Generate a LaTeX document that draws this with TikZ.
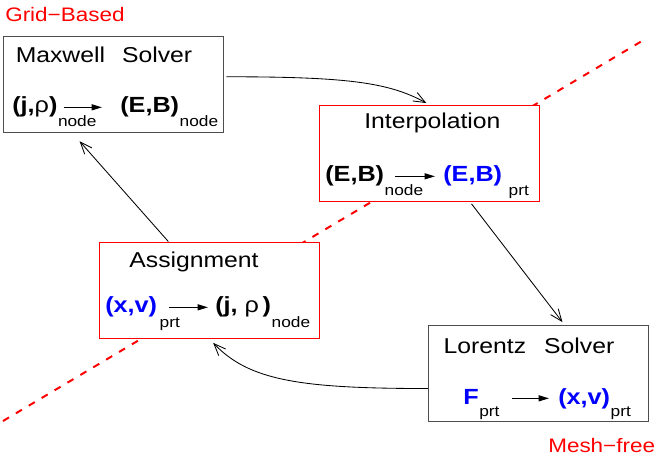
\documentclass[tikz,border=0pt]{standalone}
\usepackage{fontspec}
\setmainfont{Liberation Sans}[FakeStretch=1.15]
\usepackage{tikz}
\usetikzlibrary{positioning, arrows.meta, calc}
\definecolor{picBlue}{HTML}{0000FF}
\definecolor{picRed}{HTML}{FF0000}
\definecolor{picFrame}{HTML}{4D4D4D}

\begin{document}
\begin{tikzpicture}[
    solver/.style={
      rectangle, draw=picFrame, fill=white, line width=0.7pt,
      minimum width=5.5cm, minimum height=2.4cm, inner sep=0pt
    },
    stage/.style={solver, draw=picRed},
    title/.style={anchor=base, inner sep=0pt, font=\fontsize{15.3}{18}\selectfont},
    term/.style={anchor=base west, inner sep=0pt, font=\fontsize{15.6}{18}\selectfont\bfseries},
    sub/.style={anchor=base west, inner sep=0pt, font=\fontsize{10.7}{12}\selectfont},
    region/.style={anchor=base west, inner sep=0pt, text=picRed, font=\fontsize{13.9}{16}\selectfont},
    flow/.style={line width=0.6pt, -{Straight Barb[length=3mm,width=2.4mm]}},
    map/.style={line width=0.9pt, -{Triangle[length=2.6mm,width=1.5mm]}},
    split/.style={draw=picRed, line width=1.4pt, dash pattern=on 0.175cm off 0.2cm}
  ]
  \useasboundingbox (0,0) rectangle (16.45,11.6);

  % frontera malla / sin malla
  \coordinate (gridEnd) at (0.075,1.075);
  \coordinate (meshEnd) at (16.05,10.575);
  \draw[split] (gridEnd) -- (meshEnd);

  \node[region] (gridLbl) at (0.125,11.05) {Grid−Based};
  \node[region] (meshLbl) at (13.7,0.3) {Mesh−free};

  % cajas del ciclo
  \node[solver] (mx) at (2.825,9.4875) {};
  \node[stage] (ip) at (10.725,7.775) {};
  \node[stage] (as) at (5.225,4.35) {};
  \node[solver] (lz) at (13.4625,2.275) {};

  \node[title] (mxT) at (2.6,10.025) {Maxwell\hspace{0.425cm}Solver};
  \node[title] (ipT) at (10.81,8.375) {Interpolation};
  \node[title] (asT) at (4.85,4.9) {Assignment};
  \node[title] (lzT) at (13.225,2.775) {Lorentz\hspace{0.45cm}Solver};

  % Maxwell
  \node[term] (mxIn) at (0.3,8.775) {(j,{\mdseries ρ})};
  \node[sub] (mxInS) at ([yshift=-0.35cm]mxIn.base east) {node};
  \node[term] (mxOut) at (3.0,8.775) {(E,B)};
  \node[sub] (mxOutS) at ([yshift=-0.35cm]mxOut.base east) {node};
  \draw[map, shorten <=0.15cm, shorten >=0.45cm] (mxIn.east) -- (mxIn.east -| mxOut.west);

  % Interpolation
  \node[term] (ipIn) at (8.125,7.05) {(E,B)};
  \node[sub] (ipInS) at ([yshift=-0.35cm]ipIn.base east) {node};
  \node[term, text=picBlue] (ipOut) at (11.075,7.05) {(E,B)};
  \node[sub] (ipOutS) at ([xshift=0.15cm,yshift=-0.35cm]ipOut.base east) {prt};
  \draw[map, shorten <=0.275cm, shorten >=0.2cm] (ipIn.east) -- (ipIn.east -| ipOut.west);

  % Assignment
  \node[term, text=picBlue] (asIn) at (2.625,3.775) {(x,v)};
  \node[sub] (asInS) at ([xshift=0.05cm,yshift=-0.35cm]asIn.base east) {prt};
  \node[term] (asOut) at (5.375,3.775) {(j, {\mdseries ρ}\,)};
  \node[sub] (asOutS) at ([yshift=-0.35cm]asOut.base east) {node};
  \draw[map, shorten <=0.3cm, shorten >=0.175cm] (asIn.east) -- (asIn.east -| asOut.west);

  % Lorentz
  \node[term, text=picBlue] (lzIn) at (11.575,1.5) {F};
  \node[sub] (lzInS) at ([yshift=-0.3cm]lzIn.base east) {prt};
  \node[term, text=picBlue] (lzOut) at (13.95,1.5) {(x,v)};
  \node[sub] (lzOutS) at ([yshift=-0.3cm]lzOut.base east) {prt};
  \draw[map, shorten <=0.825cm, shorten >=0.225cm] (lzOut.west -| lzIn.east) -- (lzOut.west);

  % ciclo
  \draw[flow, shorten <=0.075cm, shorten >=0.075cm]
    (mx.4) .. controls +(3.1,0) and +(-1,0.55) .. (ip.north);
  \draw[flow, shorten <=0.075cm, shorten >=0.075cm] (ip.-50) -- (lz.62);
  \draw[flow, shorten >=0.15cm]
    (lz.188) .. controls +(-3.2,0) and +(1,-1.05) .. (as.south);
  \draw[flow, shorten >=0.275cm] (as.130) -- (mx.-130);
\end{tikzpicture}
\end{document}
